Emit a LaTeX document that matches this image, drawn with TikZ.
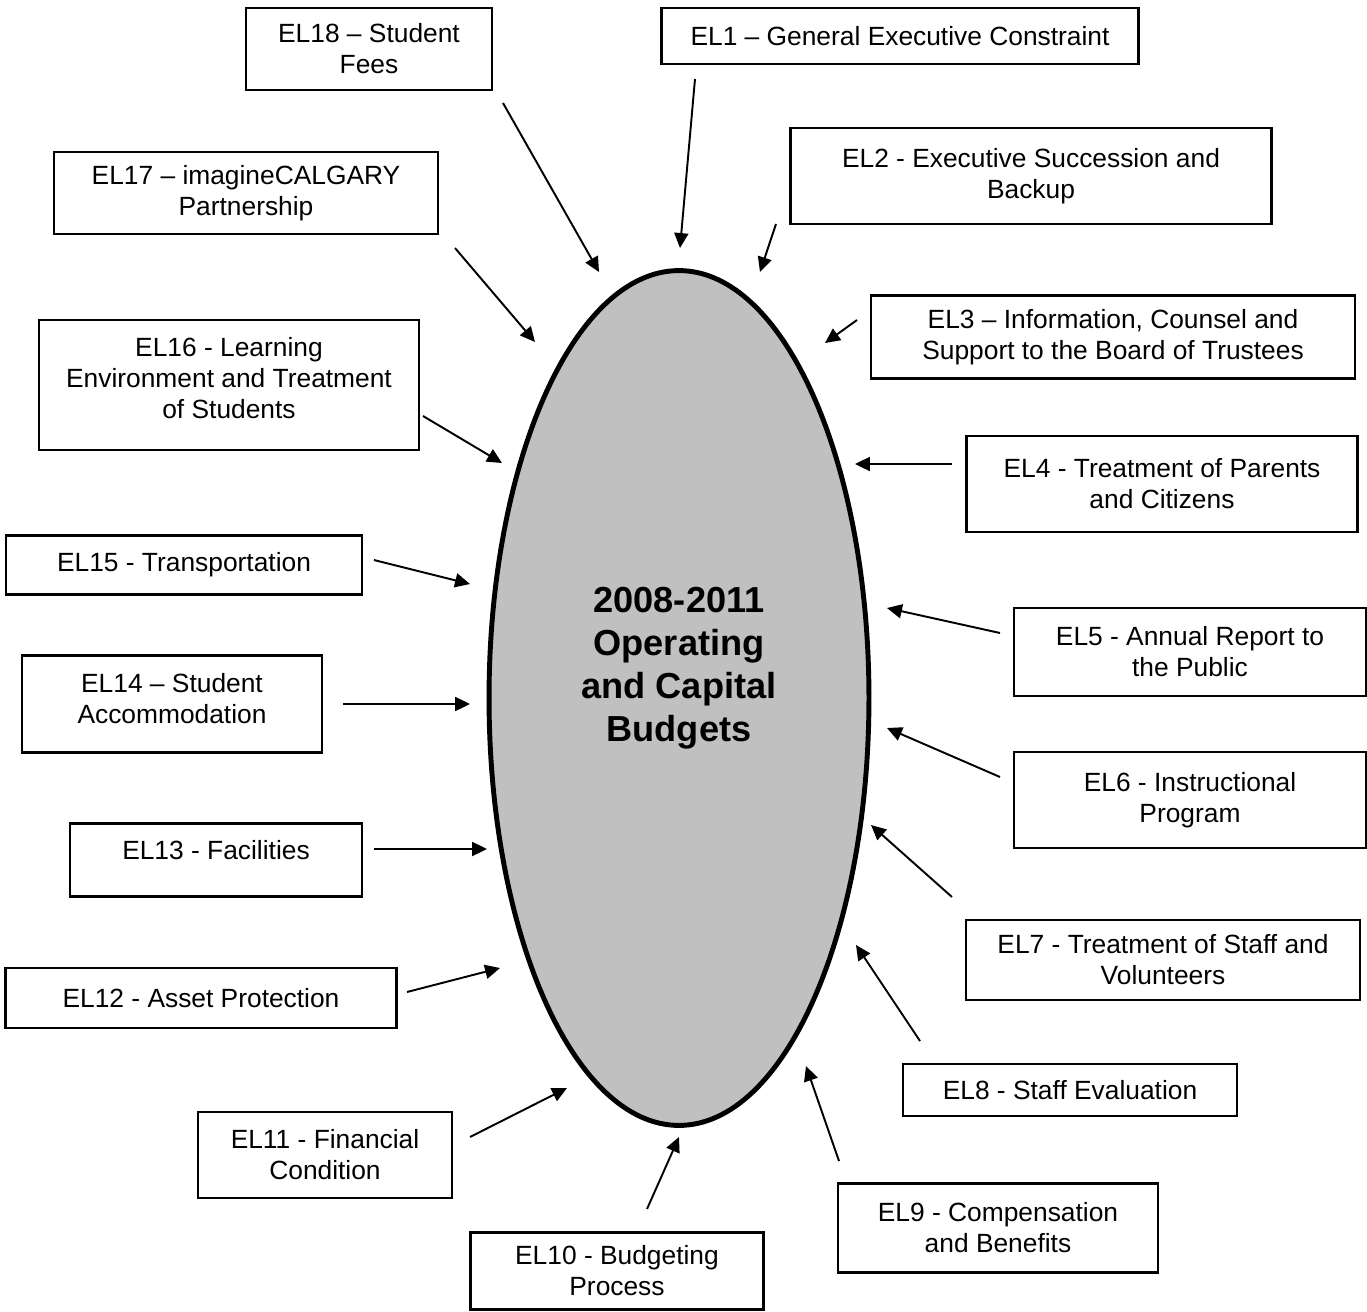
\documentclass[tikz,border=0pt]{standalone}
\usepackage{fontspec}
\setmainfont{Liberation Sans}
\usetikzlibrary{arrows.meta,shapes.geometric}
\definecolor{budgetgray}{HTML}{C0C0C0}

\begin{document}
\begin{tikzpicture}[x=0.02cm,y=-0.02cm,
  elbox/.style={draw,line width=1.5pt,align=center,inner sep=0pt,font=\fontsize{15}{17.6}\selectfont},
  feed/.style={-{Triangle[length=8.5pt,width=8pt]},line width=1.1pt},
  budget/.style={ellipse,draw,line width=2.8pt,fill=budgetgray,minimum width=7.6cm,minimum height=17.1cm,inner sep=0pt}]
\useasboundingbox (0,0) rectangle (1367,1312);

\node[budget] (core) at (679,698) {};
\node[align=center,font=\bfseries\fontsize{20.6}{24.4}\selectfont] (coretitle) at (679,668) {2008-2011\\Operating\\and Capital\\Budgets};

\node[elbox,minimum width=9.54cm,minimum height=1.12cm] (el1) at (900,36) {EL1 – General Executive Constraint};
\node[elbox,minimum width=9.62cm,minimum height=1.92cm] (el2) at (1031,176) {EL2 - Executive Succession and\\Backup};
\node[elbox,minimum width=9.68cm,minimum height=1.66cm] (el3) at (1113,337) {EL3 – Information, Counsel and\\Support to the Board of Trustees};
\node[elbox,minimum width=7.82cm,minimum height=1.92cm] (el4) at (1162,484) {EL4 - Treatment of Parents\\and Citizens};
\node[elbox,minimum width=7.04cm,minimum height=1.76cm] (el5) at (1190,652) {EL5 - Annual Report to\\the Public};
\node[elbox,minimum width=7.04cm,minimum height=1.92cm] (el6) at (1190,800) {EL6 - Instructional\\Program};
\node[elbox,minimum width=7.88cm,minimum height=1.6cm] (el7) at (1163,960) {EL7 - Treatment of Staff and\\Volunteers};
\node[elbox,minimum width=6.68cm,minimum height=1.04cm] (el8) at (1070,1090) {EL8 - Staff Evaluation};
\node[elbox,minimum width=6.4cm,minimum height=1.78cm] (el9) at (998,1228) {EL9 - Compensation\\and Benefits};
\node[elbox,minimum width=5.86cm,minimum height=1.54cm] (el10) at (617,1271) {EL10 - Budgeting\\Process};
\node[elbox,minimum width=5.08cm,minimum height=1.72cm] (el11) at (325,1155) {EL11 - Financial\\Condition};
\node[elbox,minimum width=7.82cm,minimum height=1.2cm] (el12) at (201,998) {EL12 - Asset Protection};
\node[elbox,minimum width=5.84cm,minimum height=1.46cm,text depth=11pt] (el13) at (216,860) {EL13 - Facilities};
\node[elbox,minimum width=6cm,minimum height=1.94cm,text depth=6pt] (el14) at (172,704) {EL14 – Student\\Accommodation};
\node[elbox,minimum width=7.12cm,minimum height=1.18cm] (el15) at (184,565) {EL15 - Transportation};
\node[elbox,minimum width=7.6cm,minimum height=2.6cm,text depth=8pt] (el16) at (229,385) {EL16 - Learning\\Environment and Treatment\\of Students};
\node[elbox,minimum width=7.68cm,minimum height=1.64cm] (el17) at (246,193) {EL17 – imagineCALGARY\\Partnership};
\node[elbox,minimum width=4.92cm,minimum height=1.64cm] (el18) at (369,49) {EL18 – Student\\Fees};

\coordinate (s1) at (695,79);    \coordinate (t1) at (680,248);
\coordinate (s2) at (776,224);   \coordinate (t2) at (760,272);
\coordinate (s3) at (857,320);   \coordinate (t3) at (825,343);
\coordinate (s4) at (952,464);   \coordinate (t4) at (855,464);
\coordinate (s5) at (1000,633);  \coordinate (t5) at (887,608);
\coordinate (s6) at (1000,777);  \coordinate (t6) at (887,728);
\coordinate (s7) at (952,897);   \coordinate (t7) at (871,825);
\coordinate (s8) at (920,1041);  \coordinate (t8) at (856,945);
\coordinate (s9) at (839,1161);  \coordinate (t9) at (806,1066);
\coordinate (s10) at (647,1209); \coordinate (t10) at (679,1137);
\coordinate (s11) at (470,1137); \coordinate (t11) at (567,1088);
\coordinate (s12) at (407,992);  \coordinate (t12) at (500,968);
\coordinate (s13) at (374,849);  \coordinate (t13) at (487,849);
\coordinate (s14) at (343,704);  \coordinate (t14) at (470,704);
\coordinate (s15) at (374,560);  \coordinate (t15) at (470,584);
\coordinate (s16) at (423,416);  \coordinate (t16) at (502,463);
\coordinate (s17) at (455,248);  \coordinate (t17) at (535,342);
\coordinate (s18) at (503,103);  \coordinate (t18) at (599,272);

\draw[feed] (s1) -- (t1);
\draw[feed] (s2) -- (t2);
\draw[feed] (s3) -- (t3);
\draw[feed] (s4) -- (t4);
\draw[feed] (s5) -- (t5);
\draw[feed] (s6) -- (t6);
\draw[feed] (s7) -- (t7);
\draw[feed] (s8) -- (t8);
\draw[feed] (s9) -- (t9);
\draw[feed] (s10) -- (t10);
\draw[feed] (s11) -- (t11);
\draw[feed] (s12) -- (t12);
\draw[feed] (s13) -- (t13);
\draw[feed] (s14) -- (t14);
\draw[feed] (s15) -- (t15);
\draw[feed] (s16) -- (t16);
\draw[feed] (s17) -- (t17);
\draw[feed] (s18) -- (t18);
\end{tikzpicture}
\end{document}
